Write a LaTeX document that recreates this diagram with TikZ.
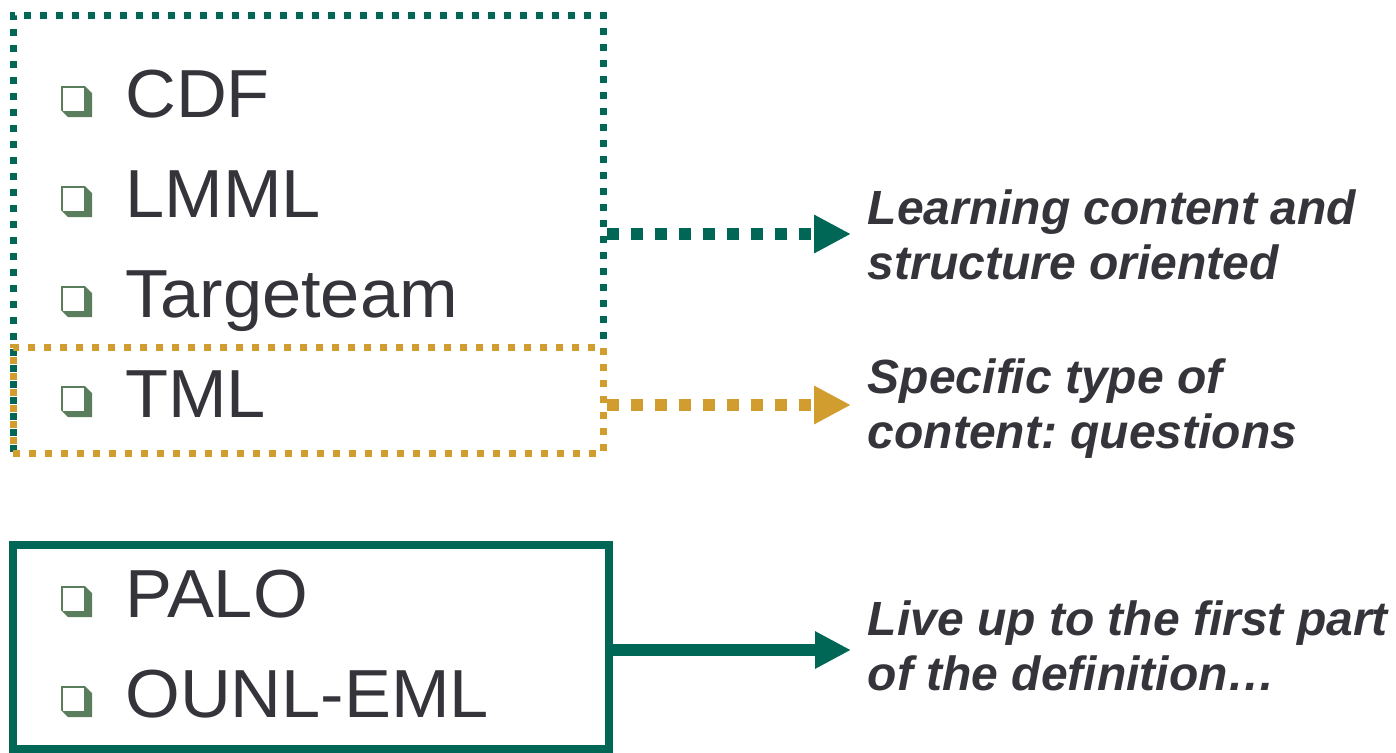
\documentclass[tikz,border=0pt]{standalone}
\usepackage{fontspec}
\setmainfont{Liberation Sans}
\newfontfamily\itemfont[FakeStretch=1.035]{Liberation Sans}
\usetikzlibrary{arrows.meta}
\definecolor{darkgreen}{RGB}{0, 102, 86}
\definecolor{gold}{RGB}{209, 157, 46}
\definecolor{bulletgreen}{RGB}{90, 125, 92}
\definecolor{textgrey}{RGB}{52, 52, 58}
\frenchspacing

\tikzset{
    boxbullet/.pic={
        \fill[bulletgreen] (0, 0) -- (24, 0) -- (31, 7) -- (31, 31) -- (7, 31)
            -- (0, 24) -- cycle;
        \fill[white] (2, 2) rectangle (23, 25);
    },
    item/.style={anchor=base west, inner sep=0pt, text=textgrey,
        font=\itemfont\fontsize{51}{60}\selectfont},
    remark/.style={anchor=base west, align=left, inner xsep=12.5pt,
        inner ysep=0pt, text=textgrey,
        font=\fontsize{36}{41.25}\selectfont\bfseries\itshape},
    dotbox/.style={draw, line width=5.25pt, dash pattern=on 5.25pt off 6.75pt,
        inner sep=0pt},
    dotarrow/.style={line width=9pt, dash pattern=on 9pt off 9pt,
        -{Triangle[length=27.75pt, width=27pt]}},
}

\begin{document}
\begin{tikzpicture}[x=0.75pt, y=-0.75pt]
    \useasboundingbox (0, 0) rectangle (1396, 753);

    \node[dotbox, darkgreen, minimum width=442.5pt, minimum height=328.5pt]
        (xmlbox) at (308, 234) {};
    \node[dotbox, gold, minimum width=442.5pt, minimum height=79.5pt]
        (tmlbox) at (308, 400) {};
    \node[draw, darkgreen, line width=6pt, inner sep=0pt,
        minimum width=447pt, minimum height=153pt] (emlbox) at (311, 647) {};

    \node[item] (cdf) at (125, 117) {CDF};
    \node[item] (lmml) at (125, 217) {LMML};
    \node[item] (targeteam) at (125, 317) {Targeteam};
    \node[item] (tml) at (125, 417) {TML};
    \node[item] (palo) at (125, 617) {PALO};
    \node[item] (ounl) at (125, 717) {OUNL-EML};
    \foreach \y in {117, 217, 317, 417, 617, 717}
        \pic at (61, \y-31) {boxbullet};

    \node[remark] (structure) at (851, 279) {Learning content and\\
        structure oriented};
    \node[remark] (questions) at (851, 448) {Specific type of\\
        content: questions};
    \node[remark] (definition) at (851, 690) {Live up to the first part\\
        of the definition\dots};

    \draw[dotarrow, darkgreen] (xmlbox.east) -- (xmlbox.east -| structure.west);
    \draw[dotarrow, gold] ([yshift=-3.75pt]tmlbox.east)
        -- ([yshift=-3.75pt]tmlbox.east -| questions.west);
    \draw[darkgreen, line width=9pt,
        -{Triangle[length=27pt, width=26.25pt]}]
        ([yshift=-2.25pt]emlbox.east) -- ([yshift=-2.25pt]emlbox.east -| definition.west);
\end{tikzpicture}
\end{document}
